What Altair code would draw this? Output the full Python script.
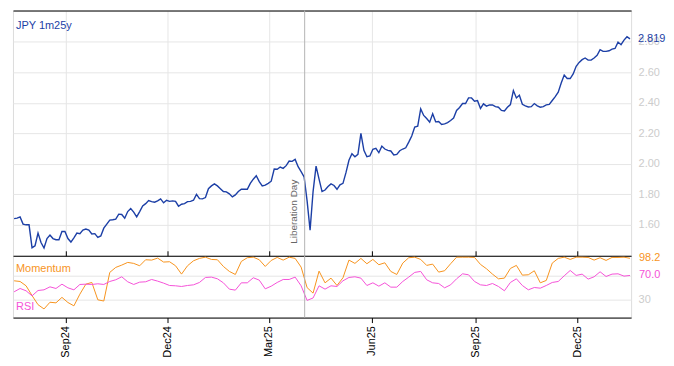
import altair as alt
import pandas as pd

# ---------------- data ----------------
start_date, end_date = "2024-07-17", "2026-01-17"

jpy_1m25y = [
    1.641, 1.644, 1.652, 1.605, 1.600, 1.600, 1.450, 1.463, 1.546, 1.484,
    1.448, 1.510, 1.533, 1.510, 1.502, 1.502, 1.556, 1.556, 1.510, 1.487,
    1.515, 1.546, 1.542, 1.565, 1.572, 1.565, 1.540, 1.542, 1.517, 1.527,
    1.578, 1.605, 1.631, 1.633, 1.637, 1.670, 1.668, 1.643, 1.687, 1.707,
    1.683, 1.652, 1.687, 1.724, 1.739, 1.759, 1.752, 1.748, 1.757, 1.770,
    1.744, 1.761, 1.754, 1.757, 1.754, 1.722, 1.735, 1.739, 1.752, 1.754,
    1.761, 1.800, 1.772, 1.770, 1.779, 1.837, 1.855, 1.868, 1.855, 1.837,
    1.818, 1.816, 1.803, 1.783, 1.796, 1.818, 1.833, 1.833, 1.833,
    1.872, 1.899, 1.922, 1.883, 1.855, 1.860, 1.872, 1.886, 1.966, 1.964,
    1.979, 1.970, 1.988, 2.018, 2.016, 2.029, 1.981, 1.949, 1.914, 1.757,
    1.565, 1.818, 1.985, 1.899, 1.818, 1.828, 1.851, 1.868, 1.858, 1.833,
    1.862, 1.872, 1.942, 2.023, 2.066,
    2.046, 2.062, 2.200, 2.088, 2.046, 2.051, 2.095, 2.101, 2.073, 2.116,
    2.097, 2.088, 2.084, 2.058, 2.062, 2.086, 2.097, 2.105, 2.142, 2.182,
    2.241, 2.247, 2.360, 2.317, 2.297, 2.273, 2.328, 2.275, 2.277, 2.258,
    2.262, 2.270, 2.284, 2.300, 2.350, 2.369, 2.395, 2.395,
    2.432, 2.432, 2.410, 2.414, 2.363, 2.393, 2.378, 2.386, 2.386, 2.375,
    2.371, 2.350, 2.347, 2.371, 2.388, 2.480, 2.432, 2.450, 2.390, 2.380,
    2.373, 2.375, 2.395, 2.380, 2.371, 2.375, 2.386, 2.390, 2.415, 2.441,
    2.470, 2.530, 2.582, 2.559, 2.559, 2.589, 2.639, 2.665, 2.683, 2.694,
    2.680, 2.680, 2.694, 2.711, 2.748, 2.737, 2.737, 2.741, 2.752, 2.756,
    2.798, 2.781, 2.811, 2.833, 2.819,
]

momentum = [
    61.2, 60.1, 53.0, 37.0, 22.0, 15.0, 26.0, 25.0, 34.0, 25.6,
    20.1, 39.3, 55.7, 58.5, 30.0, 28.0, 75.0, 83.2, 87.0, 91.4,
    89.8, 85.9, 95.8, 95.2, 98.5, 92.0, 92.5, 85.9, 72.2, 85.9,
    94.1, 98.0, 100.0, 96.3, 95.8,
    84.8, 76.6, 71.6, 93.0, 99.1, 100.0, 95.8, 84.8, 94.7, 99.6,
    95.2, 100.0, 98.0, 83.7, 50.0, 41.0, 77.1, 57.9, 65.6, 53.5,
    66.2, 95.2, 89.8, 98.0, 89.2, 96.3, 87.6, 90.8, 76.6, 71.6,
    90.3, 99.1, 100.0, 96.3, 86.5, 88.6, 75.5, 77.7, 89.2, 100.0,
    100.0, 100.0, 99.6, 88.1, 81.0, 72.2, 64.5, 65.6, 81.5, 86.5,
    70.5, 71.1, 77.7, 57.9, 61.8, 90.3, 98.0, 100.0, 96.3, 100.0,
    100.0, 99.6, 95.2, 99.1, 94.7, 99.6, 99.6, 100.0, 98.2,
]

rsi = [
    43.1, 48.6, 44.8, 36.5, 45.3, 46.4, 51.3, 48.6, 55.7, 49.7,
    46.4, 55.2, 55.7, 55.2, 56.3, 55.2, 60.1, 62.9, 67.8, 59.6,
    55.2, 59.0, 59.6, 63.4, 60.7, 57.4, 53.5, 53.0, 51.9, 53.5,
    54.6, 58.5, 66.7, 67.3, 64.5,
    57.9, 47.5, 45.9, 57.9, 57.9, 66.2, 62.3, 48.0, 52.4, 58.5,
    63.4, 63.4, 67.3, 53.0, 29.0, 33.0, 53.0, 47.5, 53.0, 51.9,
    61.2, 66.7, 67.8, 65.6, 53.5, 57.9, 52.4, 57.9, 50.8, 50.8,
    60.1, 67.3, 75.0, 76.6, 62.9, 57.9, 56.8, 49.7, 54.6, 64.5,
    72.7, 71.1, 60.1, 54.6, 53.5, 56.8, 51.9, 44.8, 58.5, 64.5,
    53.5, 46.4, 50.2, 49.1, 53.5, 58.5, 60.1, 69.4, 78.2, 70.0,
    72.2, 64.0, 67.8, 76.0, 68.3, 72.2, 72.7, 68.9, 70.0,
]

tick_dates = ["2024-09-01", "2024-12-01", "2025-03-01",
              "2025-06-01", "2025-09-01", "2025-12-01"]
x_domain = ["2024-07-16", "2026-01-18"]
price_ticks = [1.6, 1.8, 2.0, 2.2, 2.4, 2.6, 2.8]
osc_ticks = [30, 70]
event_dates = ["2025-04-02"]
event_labels = ["Liberation Day"]
series_title = "JPY 1m25y"

# ---------------- styling ----------------
BLUE = "#1c3fa6"
ORANGE = "#f7941e"
MAGENTA = "#f552d8"
GRID = "#e6e6e6"
LABEL_GREY = "#cccccc"
FONT = "Liberation Sans"


def dt(s):
    return alt.DateTime(year=int(s[:4]), month=int(s[5:7]), date=int(s[8:10]))


tick_vals = [dt(d) for d in tick_dates]
xscale = alt.Scale(domain=[dt(d) for d in x_domain])

price = pd.DataFrame({
    "date": pd.date_range(start_date, end_date, periods=len(jpy_1m25y)),
    "value": jpy_1m25y,
})
osc = pd.DataFrame({
    "date": pd.date_range(start_date, end_date, periods=len(momentum)),
    "Momentum": momentum,
    "RSI": rsi,
})
events = pd.DataFrame({"date": event_dates, "label": event_labels})
title_df = pd.DataFrame({"t": [series_title]})
osc_names = pd.DataFrame({"name": ["Momentum", "RSI"]})

# ---------------- top panel ----------------
yscale_top = alt.Scale(domain=[1.397, 3.005], nice=False, zero=False)
top_xaxis = alt.Axis(orient="top", values=tick_vals, labels=False, ticks=False,
                     domain=True, domainColor="black", domainWidth=1,
                     grid=True, gridColor=GRID, title=None)
top_yaxis = alt.Axis(orient="right", values=price_ticks, format=".2f",
                     labelColor=LABEL_GREY, labelFontSize=11, labelFont=FONT,
                     grid=True, gridColor=GRID, ticks=False, domain=False,
                     labelPadding=7, title=None)

X_TOP = alt.X("date:T", scale=xscale, axis=top_xaxis)

line_top = alt.Chart(price).mark_line(color=BLUE, strokeWidth=1.4).encode(
    x=X_TOP,
    y=alt.Y("value:Q", scale=yscale_top, axis=top_yaxis),
)

event_rule_top = alt.Chart(events).mark_rule(color="#b4b4b4", strokeWidth=1).encode(
    x=X_TOP
)
event_text = alt.Chart(events).mark_text(
    angle=270, align="left", baseline="bottom", dy=-6, fontSize=10,
    font=FONT, color="#666666"
).encode(x=X_TOP, y=alt.value(234), text="label:N")

last_price = alt.Chart(price.tail(1)).mark_text(
    align="left", baseline="middle", dx=8, fontSize=11, font=FONT, color=BLUE
).encode(x=X_TOP, y=alt.Y("value:Q", scale=yscale_top, axis=top_yaxis),
         text=alt.Text("value:Q", format=".3f"))

title_text = alt.Chart(title_df).mark_text(
    align="left", baseline="middle", fontSize=11, font=FONT, color=BLUE
).encode(x=alt.value(3), y=alt.value(16), text="t:N")

top = alt.layer(line_top, event_rule_top, event_text, last_price, title_text).properties(
    width=620, height=246
)

# ---------------- bottom panel ----------------
yscale_osc = alt.Scale(domain=[0.8, 102.3], nice=False, zero=False)
osc_yaxis = alt.Axis(orient="right", values=osc_ticks,
                     labelExpr="datum.value == 30 ? '30' : ''",
                     labelColor=LABEL_GREY, labelFontSize=11, labelFont=FONT,
                     grid=True, gridColor=GRID, ticks=False, domain=False,
                     labelPadding=7, title=None)
X_NOAXIS = alt.X("date:T", scale=xscale, axis=None)

mom_line = alt.Chart(osc).mark_line(color=ORANGE, strokeWidth=1).encode(
    x=alt.X("date:T", scale=xscale,
            axis=alt.Axis(orient="bottom", values=tick_vals, format="%b%y",
                          labelAngle=-90, labelFontSize=11, labelFont=FONT,
                          labelColor="black", ticks=True, tickColor="black",
                          tickSize=5, domain=True, domainColor="black",
                          grid=False, labelPadding=3, title=None)),
    y=alt.Y("Momentum:Q", scale=yscale_osc, axis=osc_yaxis),
)
rsi_line = alt.Chart(osc).mark_line(color=MAGENTA, strokeWidth=1).encode(
    x=alt.X("date:T", scale=xscale,
            axis=alt.Axis(orient="top", values=tick_vals, labels=False,
                          ticks=True, tickColor="black", tickSize=5,
                          domain=True, domainColor="black", grid=False, title=None)),
    y=alt.Y("RSI:Q", scale=yscale_osc, axis=osc_yaxis),
)
event_rule_bot = alt.Chart(events).mark_rule(color="#b4b4b4", strokeWidth=1).encode(
    x=X_NOAXIS
)
last_mom = alt.Chart(osc.tail(1)).mark_text(
    align="left", baseline="middle", dx=9, fontSize=11, font=FONT, color=ORANGE
).encode(x=X_NOAXIS, y=alt.Y("Momentum:Q", scale=yscale_osc, axis=osc_yaxis),
         text=alt.Text("Momentum:Q", format=".1f"))
last_rsi = alt.Chart(osc.tail(1)).mark_text(
    align="left", baseline="middle", dx=9, fontSize=11, font=FONT, color=MAGENTA
).encode(x=X_NOAXIS, y=alt.Y("RSI:Q", scale=yscale_osc, axis=osc_yaxis),
         text=alt.Text("RSI:Q", format=".1f"))
mom_name = alt.Chart(osc_names.head(1)).mark_text(
    align="left", baseline="middle", fontSize=11, font=FONT, color=ORANGE
).encode(x=alt.value(3), y=alt.value(13), text="name:N")
rsi_name = alt.Chart(osc_names.tail(1)).mark_text(
    align="left", baseline="middle", fontSize=11, font=FONT, color=MAGENTA
).encode(x=alt.value(3), y=alt.value(51), text="name:N")

bottom = alt.layer(
    mom_line, rsi_line, event_rule_bot, last_mom, last_rsi, mom_name, rsi_name
).resolve_axis(x="independent").properties(width=620, height=62)

chart = alt.vconcat(top, bottom, spacing=0, bounds="flush").properties(
    padding={"left": 2, "top": 1, "right": 0, "bottom": 0}
).configure_view(stroke=None).configure(font=FONT)

chart.save("out.html", embed_options={"renderer": "svg", "actions": False})
